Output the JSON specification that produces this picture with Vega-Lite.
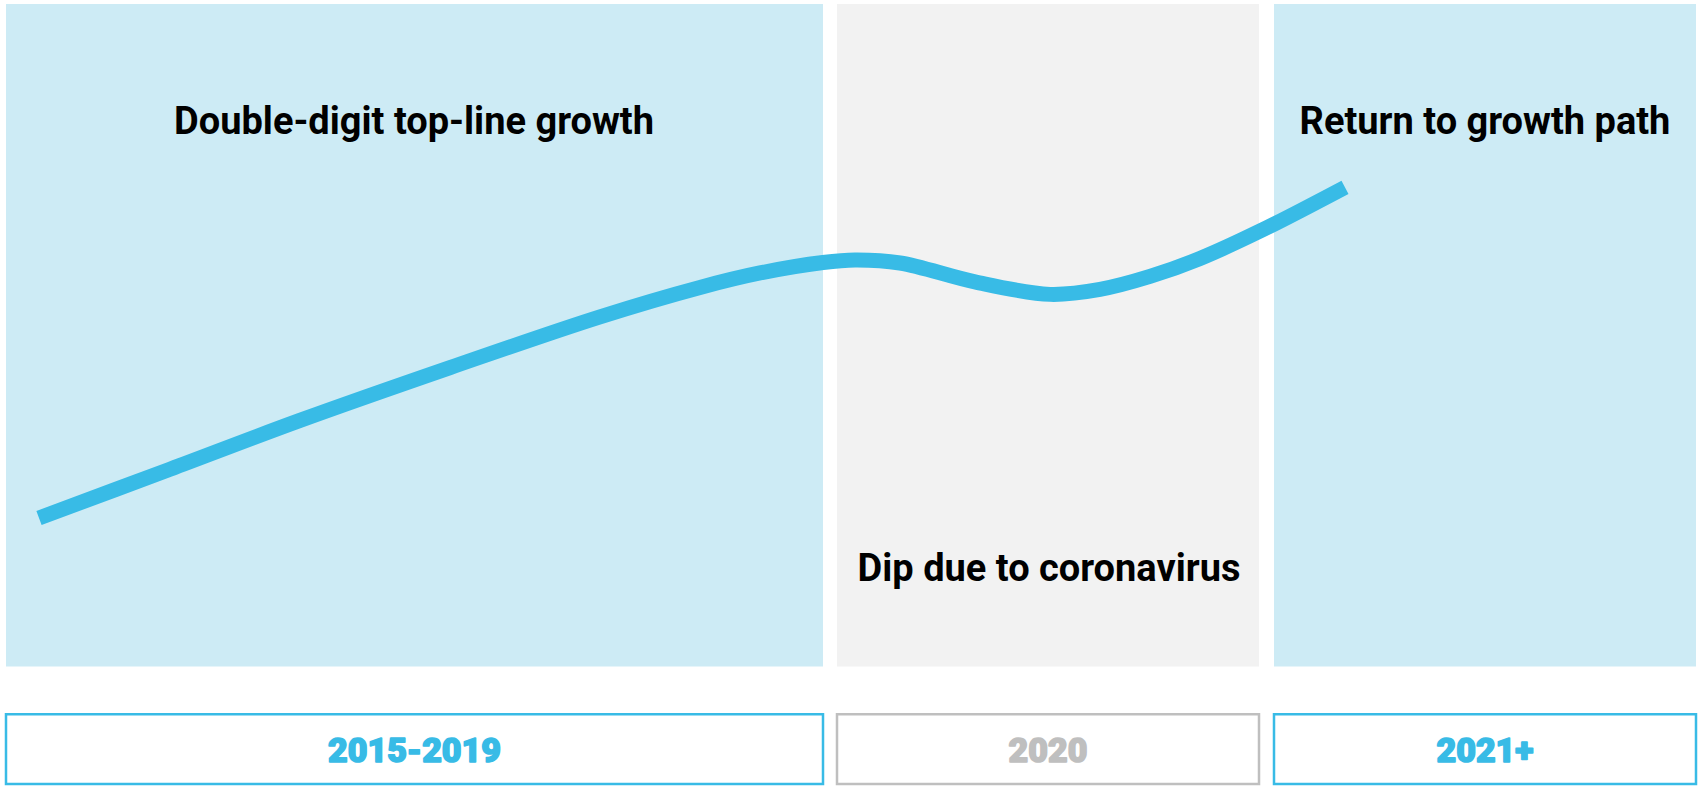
{
  "$schema": "https://vega.github.io/schema/vega-lite/v6.json",
  "width": 1698,
  "height": 786,
  "autosize": {"type": "fit", "contains": "padding"},
  "padding": 0,
  "background": "white",
  "config": {"view": {"stroke": null}},
  "datasets": {
    "periods": [
      {"period": "2015-2019", "start": 6, "end": 823, "mid": 414.5},
      {"period": "2020", "start": 837, "end": 1259, "mid": 1048},
      {"period": "2021+", "start": 1274, "end": 1696, "mid": 1485}
    ],
    "notes": [
      {"note": "Double-digit top-line growth", "x": 414, "y": 135},
      {"note": "Dip due to coronavirus", "x": 1049, "y": 583},
      {"note": "Return to growth path", "x": 1485, "y": 135}
    ],
    "trend": [
      {"t": 39, "v": 520},
      {"t": 170, "v": 471},
      {"t": 300, "v": 422},
      {"t": 450, "v": 369},
      {"t": 600, "v": 318},
      {"t": 700, "v": 288.5},
      {"t": 760, "v": 274},
      {"t": 823, "v": 263.5},
      {"t": 855, "v": 261},
      {"t": 900, "v": 264},
      {"t": 975, "v": 283},
      {"t": 1050, "v": 295.5},
      {"t": 1100, "v": 290.5},
      {"t": 1150, "v": 277.5},
      {"t": 1200, "v": 259.5},
      {"t": 1260, "v": 232},
      {"t": 1345, "v": 188}
    ]
  },
  "layer": [
    {
      "data": {"name": "periods"},
      "mark": {"type": "rect"},
      "encoding": {
        "x": {"field": "start", "type": "quantitative", "scale": {"domain": [0, 1698], "nice": false, "zero": false}, "axis": null},
        "x2": {"field": "end"},
        "y": {"datum": 4, "type": "quantitative", "scale": {"domain": [0, 786], "reverse": true, "nice": false, "zero": false}, "axis": null},
        "y2": {"datum": 669},
        "fill": {"field": "period", "type": "nominal", "scale": {"domain": ["2015-2019", "2020", "2021+"], "range": ["#CDEBF5", "#F2F2F2", "#CDEBF5"]}, "legend": null}
      }
    },
    {
      "data": {"name": "periods"},
      "mark": {"type": "rect", "fill": "white", "strokeWidth": 2.5},
      "encoding": {
        "x": {"field": "start", "type": "quantitative"},
        "x2": {"field": "end"},
        "y": {"datum": 717, "type": "quantitative"},
        "y2": {"datum": 787},
        "stroke": {"field": "period", "type": "nominal", "scale": {"domain": ["2015-2019", "2020", "2021+"], "range": ["#38BBE6", "#BFBFBF", "#38BBE6"]}, "legend": null}
      }
    },
    {
      "data": {"name": "periods"},
      "mark": {"type": "text", "font": "Roboto", "fontWeight": 900, "fontSize": 34, "baseline": "alphabetic", "align": "center", "strokeWidth": 1.6, "strokeJoin": "round"},
      "encoding": {
        "x": {"field": "mid", "type": "quantitative"},
        "y": {"datum": 765, "type": "quantitative"},
        "text": {"field": "period"},
        "color": {"field": "period", "type": "nominal", "scale": {"domain": ["2015-2019", "2020", "2021+"], "range": ["#38BBE6", "#BFBFBF", "#38BBE6"]}, "legend": null},
        "stroke": {"field": "period", "type": "nominal", "legend": null}
      }
    },
    {
      "data": {"name": "trend"},
      "mark": {"type": "line", "interpolate": "catmull-rom", "color": "#38BBE6", "strokeWidth": 15, "strokeCap": "butt"},
      "encoding": {
        "x": {"field": "t", "type": "quantitative"},
        "y": {"field": "v", "type": "quantitative"}
      }
    },
    {
      "data": {"name": "notes"},
      "mark": {"type": "text", "font": "Roboto", "fontWeight": "bold", "fontSize": 38, "baseline": "alphabetic", "align": "center", "color": "#000000"},
      "encoding": {
        "x": {"field": "x", "type": "quantitative"},
        "y": {"field": "y", "type": "quantitative"},
        "text": {"field": "note"}
      }
    }
  ]
}
